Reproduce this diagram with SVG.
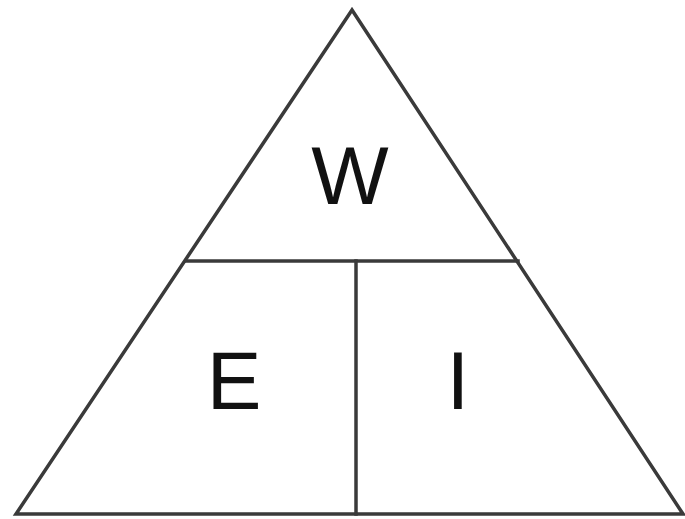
<svg xmlns="http://www.w3.org/2000/svg" width="685" height="519" viewBox="0 0 685 519">
<style>
.ln{stroke:#3a3a3a;stroke-width:3.5;fill:none;stroke-linecap:square}
.lb{font-family:"Liberation Sans",Arial,sans-serif;font-size:82px;fill:#111;text-anchor:middle}
</style>
<rect width="685" height="519" fill="#fff"/>
<g id="connectors">
<polygon class="ln" points="352,10 16,514 683,514" stroke-linejoin="miter"/>
<line class="ln" x1="186" y1="261" x2="518" y2="261"/>
<line class="ln" x1="356" y1="261" x2="356" y2="514"/>
</g>
<g id="W"><text class="lb" x="350" y="204">W</text></g>
<g id="E"><text class="lb" x="234" y="409">E</text></g>
<g id="I"><text class="lb" x="458" y="409">I</text></g>
</svg>
